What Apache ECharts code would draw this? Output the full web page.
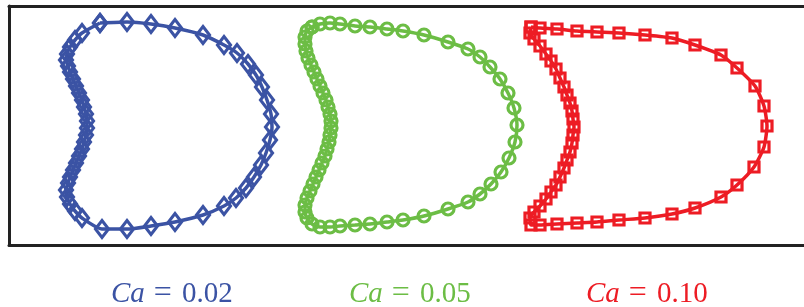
<!DOCTYPE html>
<html><head><meta charset="utf-8">
<script src="https://cdn.jsdelivr.net/npm/echarts@6/dist/echarts.min.js"></script>
<style>html,body{margin:0;padding:0;background:#fff}#c{width:804px;height:307px}</style>
</head><body><div id="c"></div>
<script>
// Shape outlines (domain units: x to the right, y downward)
const blueX = [100,127,151,175,203,224,237,248,256,262,267,271,272,270,266,261,254,246,236,224,203,175,151,127,102,82,75,70,67,66,68,70,73,76,79,82,84,86,87,87,86,84,82,79,76,73,70,68,66,67,70,75,82,100];
const blueY = [23,22,24,28,35,45,53,64,75,87,100,114,127,140,153,165,177,188,198,206,215,222,226,229,229,218,211,204,197,190,183,177,170,163,156,149,142,135,128,121,114,107,100,93,86,79,72,66,60,54,47,40,33,23];
const greenX = [312,320,330,340,355,370,387,403,424,448,468,480,490,500,508,514,517,515,509,501,491,480,468,448,424,403,387,370,355,340,330,320,312,307,305,305,307,310,313,316,319,322,325,327,329,330,331,331,330,328,326,323,320,317,314,311,308,306,305,305,307,312];
const greenY = [27,24,23,24,26,27,29,31,35,42,49,57,67,79,93,108,125,142,158,172,184,194,202,209,216,220,222,224,225,226,227,227,224,218,212,205,198,191,184,177,170,163,156,149,142,135,128,121,114,107,100,93,86,79,72,65,58,51,44,37,31,27];
const redX = [531,540,557,577,597,619,645,672,695,721,737,755,764,767,764,754,737,721,695,672,645,619,597,577,557,540,531,530,534,540,546,551,556,560,564,567,570,572,573,574,573,572,570,567,564,560,556,551,546,540,534,530,531];
const redY = [27,28,29,31,32,33,35,38,45,55,68,86,106,126,147,167,185,197,208,214,218,220,222,223,224,225,225,218,212,206,199,192,185,177,168,160,152,143,135,127,119,111,103,95,87,78,69,61,54,46,39,33,27];
const labels = ['0.02','0.05','0.10'];
const colors = ['#3b53a4','#6cbd45','#ed1c24'];

function pts(xs, ys){ return xs.map((x,i)=>[x, ys[i]]); }

const chart = echarts.init(document.getElementById('c'), null, {renderer:'canvas'});
const mk = (xs, ys, color, symbol, size) => ({
  type:'line', data: pts(xs, ys), symbol, symbolSize: size, showSymbol:true,
  lineStyle:{color, width:3.5}, itemStyle:{color:'rgba(255,255,255,0)', borderColor:color, borderWidth:3.2},
  emphasis:{disabled:true}, smooth:0.2, animation:false, z:2
});
const border = {show:true, onZero:false, lineStyle:{color:'#222', width:3}};
const hidden = {axisTick:{show:false}, axisLabel:{show:false}, splitLine:{show:false}};
chart.setOption({
  animation:false,
  grid:{left:9, top:6, right:0, height:239},
  xAxis:[
    Object.assign({type:'value', min:9, max:804, position:'bottom', axisLine:border}, hidden),
    Object.assign({type:'value', min:9, max:804, position:'top', axisLine:border}, hidden)
  ],
  yAxis:Object.assign({type:'value', min:6, max:245, inverse:true, position:'left', axisLine:border}, hidden),
  series:[
    mk(blueX, blueY, colors[0], 'diamond', [13,17]),
    mk(greenX, greenY, colors[1], 'circle', 12),
    mk(redX, redY, colors[2], 'rect', 10)
  ],
  graphic: labels.map((v,i)=>({
    type:'text', left: [111,349,586][i], top: 278,
    style:{
      text:'{i|Ca}{e|=}{n|'+v+'}',
      rich:{
        i:{fontFamily:'Liberation Serif', fontStyle:'italic', fontSize:29, fill:colors[i]},
        e:{fontFamily:'Liberation Serif', fontSize:32, fill:colors[i], padding:[0,10,0,9]},
        n:{fontFamily:'Liberation Serif', fontSize:29, fill:colors[i]}
      }
    }
  }))
});
</script></body></html>
